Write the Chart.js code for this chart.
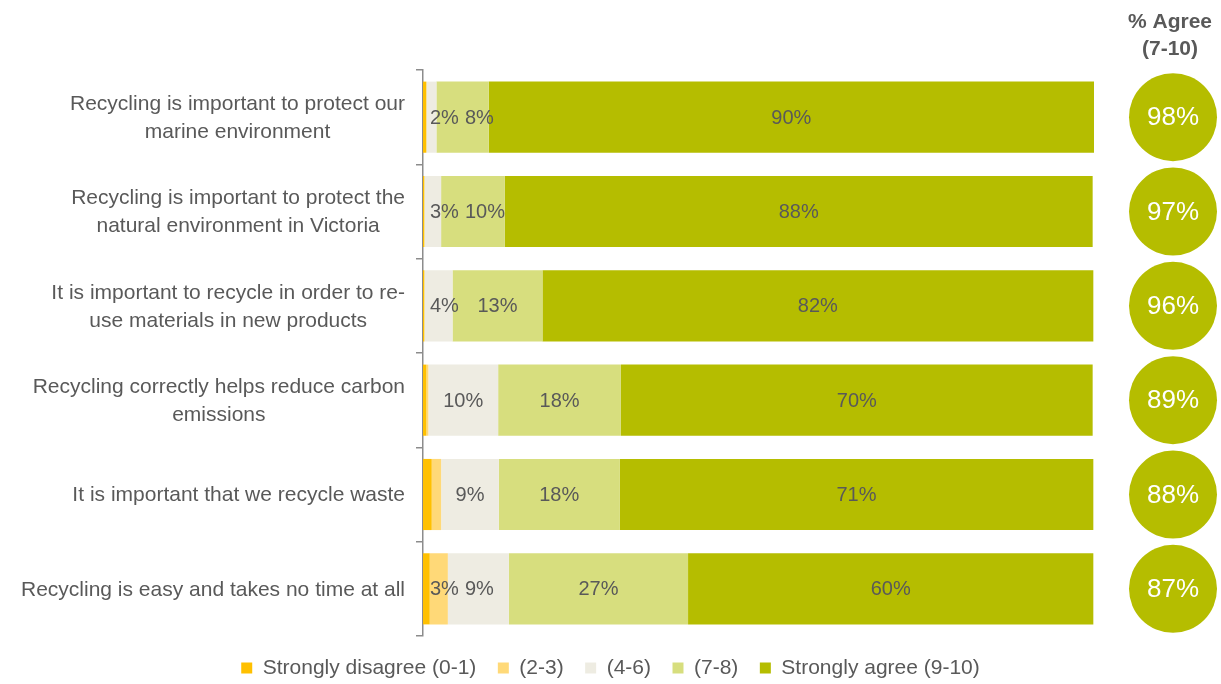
<!DOCTYPE html>
<html>
<head>
<meta charset="utf-8">
<script src="https://cdn.jsdelivr.net/npm/chart.js@4.4.0/dist/chart.umd.min.js"></script>
<style>
html,body{margin:0;padding:0;background:#fff;}
</style>
</head>
<body>
<canvas id="myChart" width="1221" height="684"></canvas>
<script>
var categories=[
    ['Recycling is important to protect our','marine environment'],
    ['Recycling is important to protect the','natural environment in Victoria'],
    ['It is important to recycle in order to re-','use materials in new products'],
    ['Recycling correctly helps reduce carbon','emissions'],
    ['It is important that we recycle waste'],
    ['Recycling is easy and takes no time at all']
];
var seriesNames=['Strongly disagree (0-1)','(2-3)','(4-6)','(7-8)','Strongly agree (9-10)'];
var disagree01=[0.5,0.2,0.2,0.5,1.3,1.0];
var score23=[0,0,0,0.3,1.4,2.7];
var score46=[1.5,2.5,4.2,10.4,8.6,9.1];
var score78=[7.8,9.5,13.4,18.3,18.0,26.7];
var agree910=[90.2,87.6,82.1,70.3,70.6,60.4];
var agreeTotal=[98,97,96,89,88,87];
var colors=['#FFC000','#FFD978','#EEECE2','#D7DE7E','#B5BD00'];

var textGrey='#595959';
var fontName='"Liberation Sans", Arial, sans-serif';

// labels, circles and header drawn on top of the bars
var extras={
    id:'extras',
    afterDraw:function(chart){
        var ctx=chart.ctx,ys=chart.scales.y,xs=chart.scales.x;
        ctx.save();
        ctx.textBaseline='middle';

        // category labels: block right-aligned, lines centred in the block
        ctx.font='21px '+fontName;
        ctx.fillStyle=textGrey;
        ctx.textAlign='center';
        for(var i=0;i<categories.length;i++){
            var lines=categories[i],maxW=0;
            for(var k=0;k<lines.length;k++) maxW=Math.max(maxW,ctx.measureText(lines[k]).width);
            var cx=ys.right-18-maxW/2;
            var yc=ys.getPixelForValue(i);
            var y0=yc-(lines.length-1)*28/2+1;
            for(var k=0;k<lines.length;k++) ctx.fillText(lines[k],cx,y0+k*28);
        }

        // values inside the segments
        ctx.font='20px '+fontName;
        for(var i=0;i<categories.length;i++){
            var minLeft=xs.getPixelForValue(0)+7;
            for(var j=0;j<chart.data.datasets.length;j++){
                var v=chart.data.datasets[j].data[i];
                var el=chart.getDatasetMeta(j).data[i];
                if(Math.round(v)<2) continue;
                var txt=Math.round(v)+'%';
                var w=ctx.measureText(txt).width;
                var x=Math.max((el.x+el.base)/2,minLeft+w/2);
                ctx.fillText(txt,x,el.y+1);
                minLeft=x+w/2+6;
            }
        }

        // % agree circles
        var ccx=chart.chartArea.right+79;
        for(var i=0;i<agreeTotal.length;i++){
            var yc=ys.getPixelForValue(i);
            ctx.beginPath();
            ctx.arc(ccx,yc,44,0,Math.PI*2);
            ctx.fillStyle=colors[4];
            ctx.fill();
            ctx.fillStyle='#ffffff';
            ctx.font='26px '+fontName;
            ctx.fillText(agreeTotal[i]+'%',ccx,yc+1);
        }

        ctx.fillStyle=textGrey;
        ctx.font='bold 21px '+fontName;
        ctx.fillText('% Agree',ccx-3,22);
        ctx.fillText('(7-10)',ccx-3,49);
        ctx.restore();
    }
};

var values=[disagree01,score23,score46,score78,agree910];
var datasets=[];
for(var j=0;j<seriesNames.length;j++){
    datasets.push({
        label:seriesNames[j],
        data:values[j],
        backgroundColor:colors[j],
        borderWidth:0,
        barPercentage:0.754,
        categoryPercentage:1
    });
}

var ctx=document.getElementById('myChart').getContext('2d');
var chart=new Chart(ctx,{
    type:'bar',
    data:{labels:categories,datasets:datasets},
    options:{
        indexAxis:'y',
        responsive:false,
        animation:false,
        devicePixelRatio:1,
        layout:{padding:{top:70}},
        scales:{
            x:{stacked:true,min:0,max:100,display:false},
            y:{
                stacked:true,
                grid:{display:true,drawOnChartArea:false,drawTicks:true,tickLength:7,color:'#8c8c8c',lineWidth:1.5,offset:true},
                border:{display:true,color:'#8c8c8c',width:1.5},
                ticks:{display:false},
                afterFit:function(s){s.width=423;}
            },
            y2:{
                type:'category',
                position:'right',
                grid:{display:false},
                border:{display:false},
                ticks:{display:false},
                afterFit:function(s){s.width=127;}
            }
        },
        plugins:{
            tooltip:{enabled:false},
            legend:{
                position:'bottom',
                maxHeight:48,
                labels:{
                    boxWidth:11,
                    boxHeight:11,
                    padding:21.5,
                    color:textGrey,
                    font:{size:21,family:fontName}
                }
            }
        }
    },
    plugins:[extras]
});
</script>
</body>
</html>
